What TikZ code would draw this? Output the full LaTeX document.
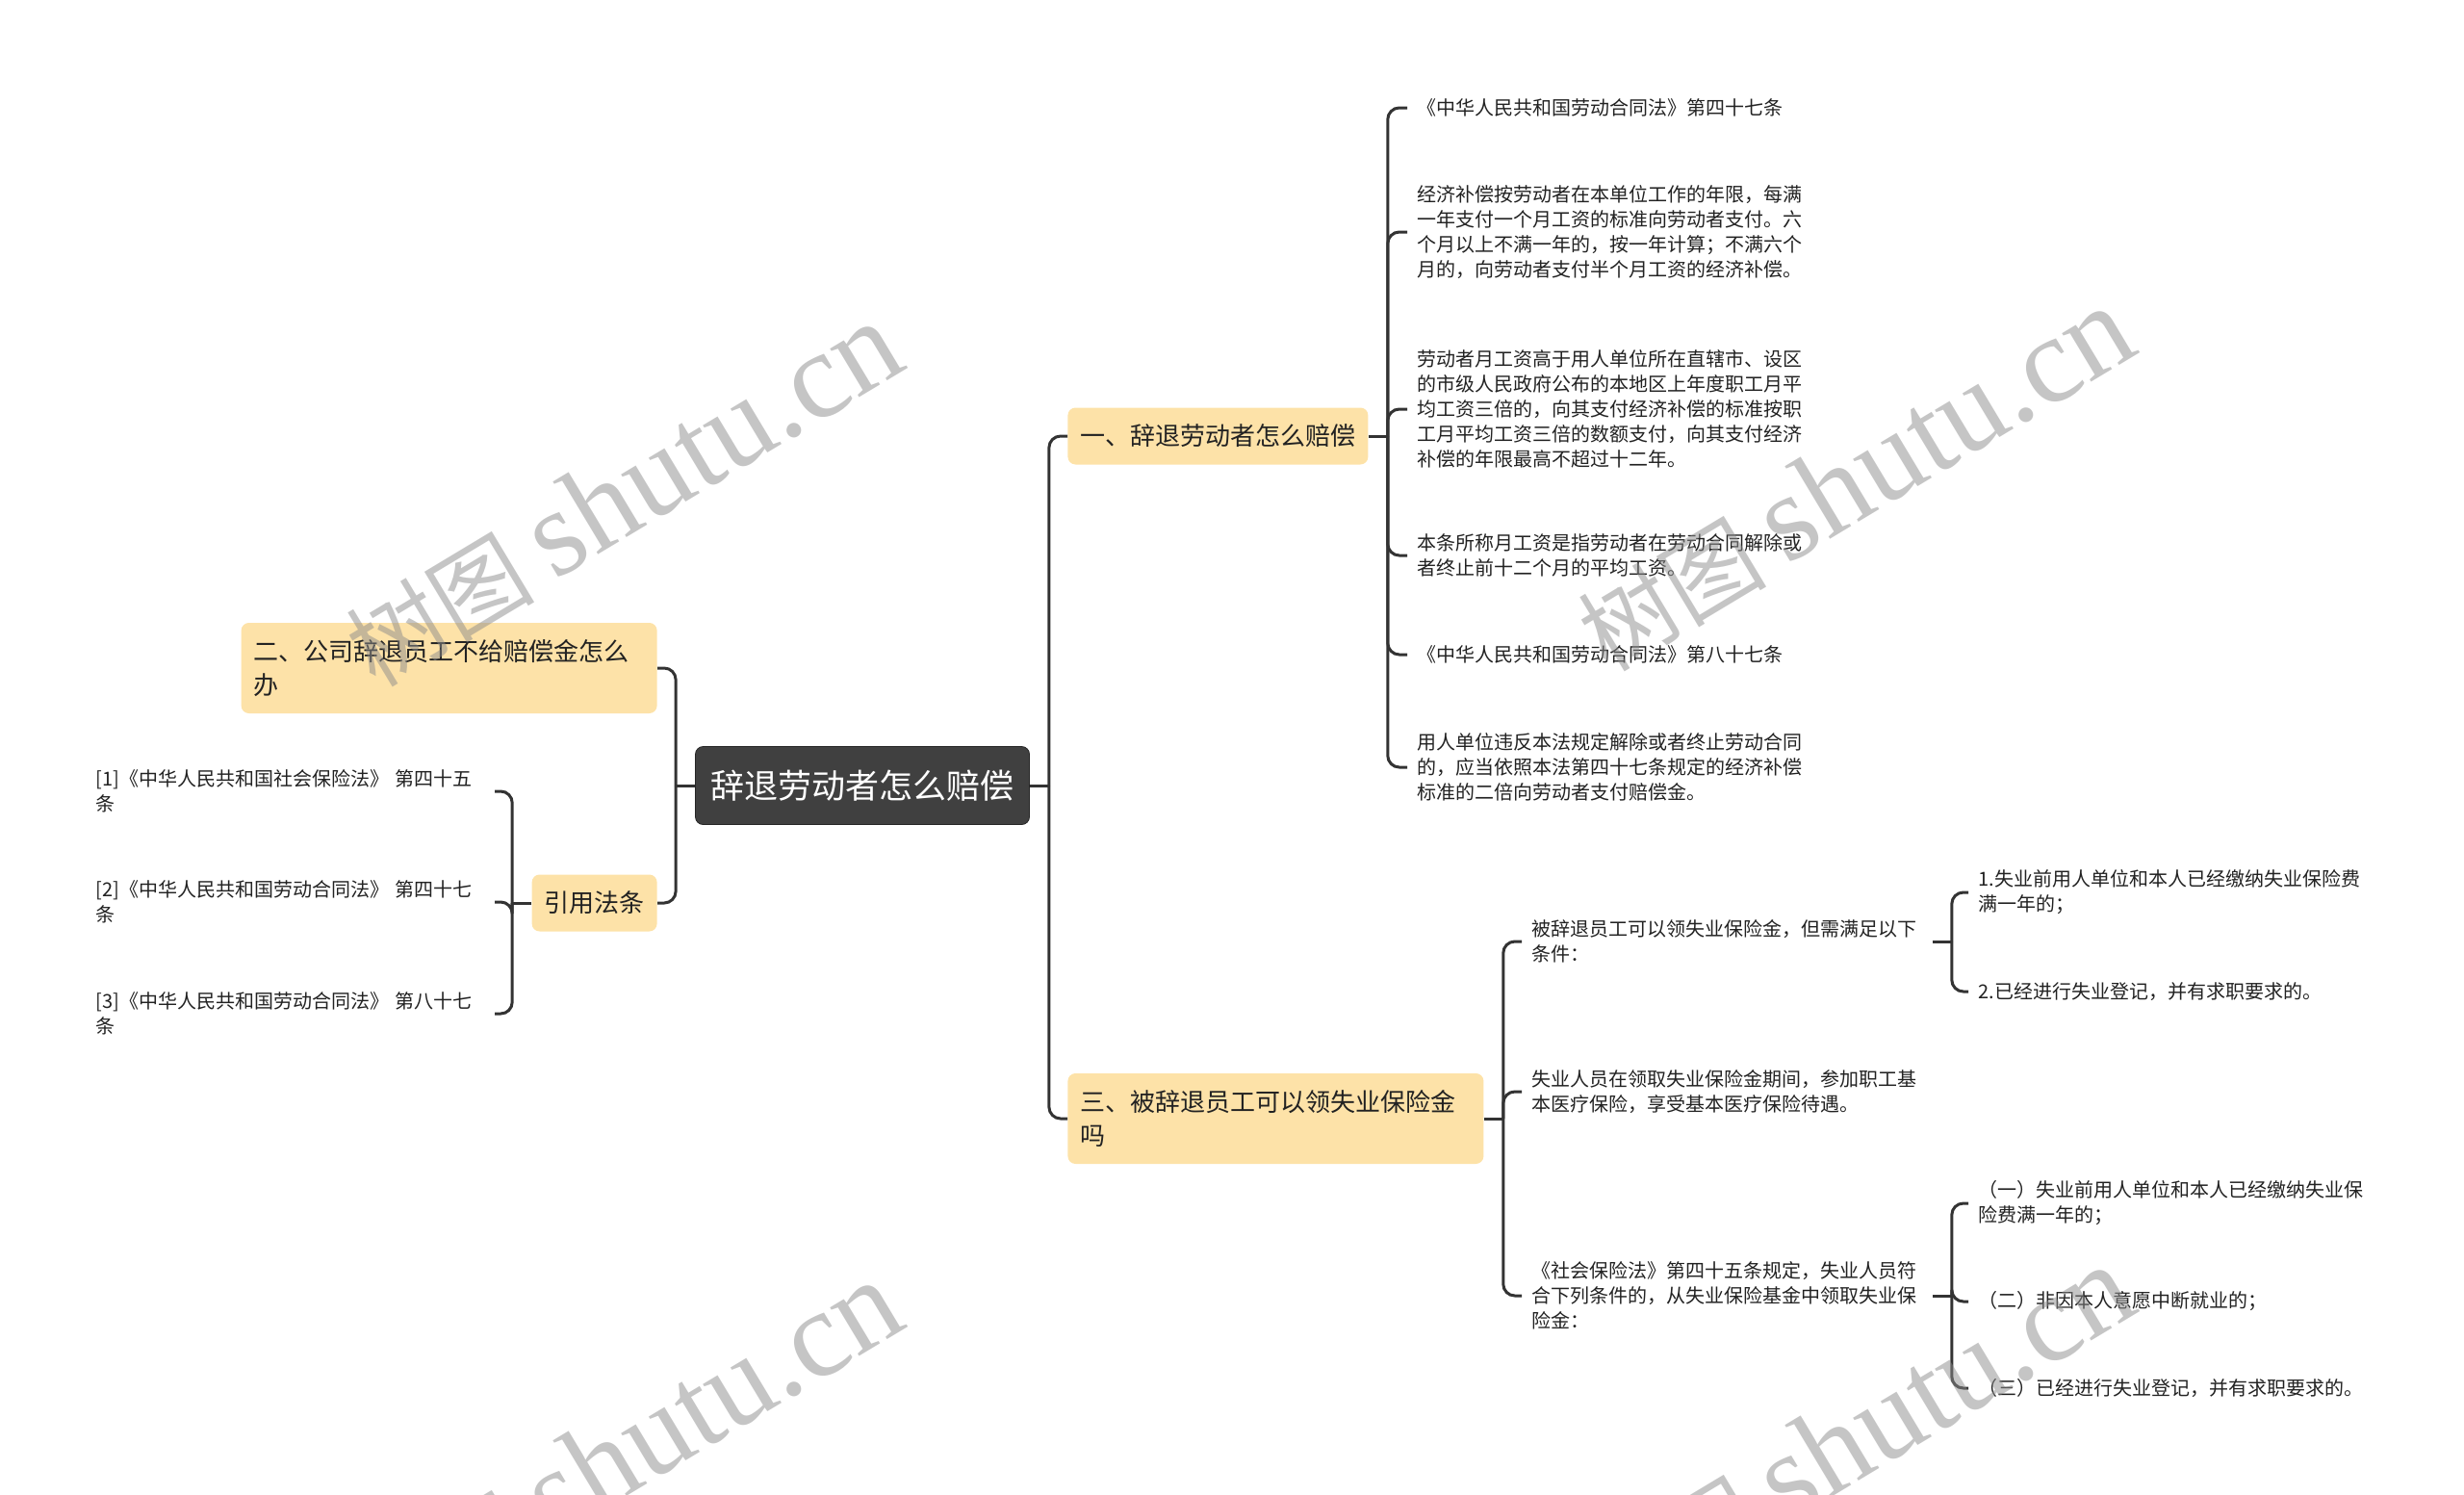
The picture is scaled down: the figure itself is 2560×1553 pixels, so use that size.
\documentclass[tikz,border=0pt]{standalone}
\usepackage{fontspec}
\setmainfont{Noto Sans CJK SC}
\newfontfamily\wmlatin{Liberation Serif}
\usetikzlibrary{positioning, calc}
\definecolor{topicfill}{RGB}{253,226,168}
\definecolor{rootfill}{RGB}{64,64,64}
\definecolor{linkcol}{RGB}{51,51,51}
\definecolor{textcol}{RGB}{34,34,34}

\begin{document}
\begin{tikzpicture}[
    x=0.5pt, y=-0.5pt,
    rootbox/.style={rectangle, rounded corners=4pt, fill=rootfill, draw=black!85,
                    text=white, font=\fontsize{17.5}{21}\selectfont,
                    inner xsep=8pt, minimum height=40.5pt},
    topic/.style={rectangle, rounded corners=4pt, fill=topicfill, text=textcol,
                  font=\fontsize{13}{17.5}\selectfont, inner xsep=6.5pt,
                  minimum height=29.5pt, align=left},
    topicwide/.style={topic, text width=203pt, minimum height=47pt},
    leaf/.style={text=textcol, font=\fontsize{10}{13}\selectfont, inner xsep=5pt,
                 inner ysep=3pt, align=left, text width=203pt},
    branch/.style={draw=linkcol, line width=1.5pt, rounded corners=6pt},
    wmark/.style={rotate=31, text=black!45, opacity=0.5,
                  font=\fontsize{49}{55}\selectfont}
]
  \useasboundingbox (0,0) rectangle (2560,1553);

  % centre and main topics
  \node[rootbox] (root) at (896,816) {辞退劳动者怎么赔偿};

  \node[topic, anchor=west]     (sec1) at (1109,453)  {一、辞退劳动者怎么赔偿};
  \node[topicwide, anchor=west] (sec3) at (1109,1162) {三、被辞退员工可以领失业保险金\\吗};
  \node[topicwide, anchor=east] (sec2) at (683,694)   {二、公司辞退员工不给赔偿金怎么\\办};
  \node[topic, anchor=east]     (cite) at (683,938)   {引用法条};

  \coordinate (rootR) at ([xshift=10pt]root.east);
  \coordinate (rootL) at ([xshift=-10pt]root.west);
  \draw[branch] (root.east) -- (rootR);
  \draw[branch] (rootR) |- (sec1.west);
  \draw[branch] (rootR) |- (sec3.west);
  \draw[branch] (root.west) -- (rootL);
  \draw[branch] (rootL) |- (sec2.east);
  \draw[branch] (rootL) |- (cite.east);

  % section one
  \node[leaf, anchor=west] (r1) at (1462,112) {《中华人民共和国劳动合同法》第四十七条};
  \node[leaf, anchor=west] (r2) at (1462,241) {经济补偿按劳动者在本单位工作的年限，每满\\一年支付一个月工资的标准向劳动者支付。六\\个月以上不满一年的，按一年计算；不满六个\\月的，向劳动者支付半个月工资的经济补偿。};
  \node[leaf, anchor=west] (r3) at (1462,425) {劳动者月工资高于用人单位所在直辖市、设区\\的市级人民政府公布的本地区上年度职工月平\\均工资三倍的，向其支付经济补偿的标准按职\\工月平均工资三倍的数额支付，向其支付经济\\补偿的年限最高不超过十二年。};
  \node[leaf, anchor=west] (r4) at (1462,577) {本条所称月工资是指劳动者在劳动合同解除或\\者终止前十二个月的平均工资。};
  \node[leaf, anchor=west] (r5) at (1462,680) {《中华人民共和国劳动合同法》第八十七条};
  \node[leaf, anchor=west] (r6) at (1462,797) {用人单位违反本法规定解除或者终止劳动合同\\的，应当依照本法第四十七条规定的经济补偿\\标准的二倍向劳动者支付赔偿金。};

  \coordinate (sec1R) at ([xshift=10pt]sec1.east);
  \draw[branch] (sec1.east) -- (sec1R);
  \draw[branch] (sec1R) |- (r1.west);
  \draw[branch] (sec1R) |- (r2.west);
  \draw[branch] (sec1R) |- (r3.west);
  \draw[branch] (sec1R) |- (r4.west);
  \draw[branch] (sec1R) |- (r5.west);
  \draw[branch] (sec1R) |- (r6.west);

  % section three
  \node[leaf, anchor=west] (s1) at (1581,978)  {被辞退员工可以领失业保险金，但需满足以下\\条件：};
  \node[leaf, anchor=west] (s2) at (1581,1134) {失业人员在领取失业保险金期间，参加职工基\\本医疗保险，享受基本医疗保险待遇。};
  \node[leaf, anchor=west] (s3) at (1581,1346) {《社会保险法》第四十五条规定，失业人员符\\合下列条件的，从失业保险基金中领取失业保\\险金：};

  \coordinate (sec3R) at ([xshift=10pt]sec3.east);
  \draw[branch] (sec3.east) -- (sec3R);
  \draw[branch] (sec3R) |- (s1.west);
  \draw[branch] (sec3R) |- (s2.west);
  \draw[branch] (sec3R) |- (s3.west);

  \node[leaf, anchor=west] (t1) at (2045,927)  {1.失业前用人单位和本人已经缴纳失业保险费\\满一年的；};
  \node[leaf, anchor=west] (t2) at (2045,1030) {2.已经进行失业登记，并有求职要求的。};

  \coordinate (s1R) at ([xshift=10pt]s1.east);
  \draw[branch] (s1.east) -- (s1R);
  \draw[branch] (s1R) |- (t1.west);
  \draw[branch] (s1R) |- (t2.west);

  \node[leaf, anchor=west] (u1) at (2045,1250) {（一）失业前用人单位和本人已经缴纳失业保\\险费满一年的；};
  \node[leaf, anchor=west] (u2) at (2045,1352) {（二）非因本人意愿中断就业的；};
  \node[leaf, anchor=west] (u3) at (2045,1442) {（三）已经进行失业登记，并有求职要求的。};

  \coordinate (s3R) at ([xshift=10pt]s3.east);
  \draw[branch] (s3.east) -- (s3R);
  \draw[branch] (s3R) |- (u1.west);
  \draw[branch] (s3R) |- (u2.west);
  \draw[branch] (s3R) |- (u3.west);

  % cited articles
  \node[leaf, anchor=east, text width=202pt] (c1) at (514,822)  {[1]《中华人民共和国社会保险法》 第四十五\\条};
  \node[leaf, anchor=east, text width=202pt] (c2) at (514,937)  {[2]《中华人民共和国劳动合同法》 第四十七\\条};
  \node[leaf, anchor=east, text width=202pt] (c3) at (514,1053) {[3]《中华人民共和国劳动合同法》 第八十七\\条};

  \coordinate (citeL) at ([xshift=-10pt]cite.west);
  \draw[branch] (cite.west) -- (citeL);
  \draw[branch] (citeL) |- (c1.east);
  \draw[branch] (citeL) |- (c2.east);
  \draw[branch] (citeL) |- (c3.east);

  % watermarks
  \foreach \wx/\wy [count=\i] in {647/514, 1927/498, 647/1510, 1927/1494}
    \node[wmark] (wm\i) at (\wx,\wy) {树图 {\wmlatin\fontsize{64}{70}\selectfont shutu.cn}};
\end{tikzpicture}
\end{document}
